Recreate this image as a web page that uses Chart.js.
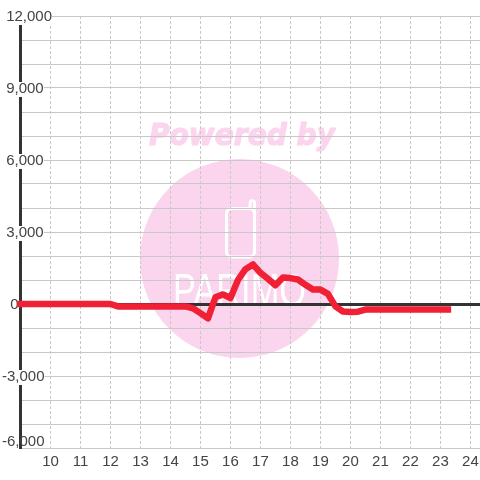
<!DOCTYPE html>
<html><head><meta charset="utf-8">
<script src="https://cdn.jsdelivr.net/npm/chart.js@4"></script>
<style>html,body{margin:0;padding:0;background:#fff}#w{width:480px;height:480px}</style>
</head><body><div id="w"><canvas id="c"></canvas></div>
<script>
const hours = [9,9.25,9.5,9.75,10,10.25,10.5,10.75,11,11.25,11.5,11.75,12,12.25,12.5,12.75,13,13.25,13.5,13.75,14,14.25,14.5,14.75,15,15.25,15.5,15.75,16,16.25,16.5,16.75,17,17.25,17.5,17.75,18,18.25,18.5,18.75,19,19.25,19.5,19.75,20,20.25,20.5,20.75,21,21.25,21.5,21.75,22,22.25,22.5,22.75,23,23.25];
const values = [0,0,0,0,0,0,0,0,0,0,0,0,0,-100,-100,-100,-100,-100,-100,-100,-100,-100,-100,-180,-380,-600,280,400,250,1000,1450,1650,1300,1050,780,1100,1080,1020,800,600,600,420,-100,-310,-330,-320,-230,-230,-230,-230,-230,-230,-230,-230,-230,-230,-230,-230];
const xTicks = [10,11,12,13,14,15,16,17,18,19,20,21,22,23,24];
const yTicks = [12000,11000,10000,9000,8000,7000,6000,5000,4000,3000,2000,1000,0,-1000,-2000,-3000,-4000,-5000,-6000];
const yLabels = {'12000':' 12,000','9000':' 9,000','6000':' 6,000','3000':' 3,000','0':'  0','-3000':'-3,000','-6000':'-6,000'};
const watermarkTop = 'Powered by';
const watermarkBrand = 'PARIMO';

const watermark = {
  id:'watermark',
  beforeDraw(chart){
    const g = chart.ctx;
    g.save();
    g.fillStyle='#fff'; g.fillRect(0,0,480,480);
    g.fillStyle='#fbd5ee'; g.strokeStyle='#fbd5ee';
    g.beginPath(); g.arc(239.5,258.5,99.5,0,Math.PI*2); g.fill();
    g.font='italic bold 30px "DejaVu Sans"';
    g.textAlign='center'; g.textBaseline='alphabetic';
    g.lineWidth=1.2; g.lineJoin='round';
    g.fillText(watermarkTop,242,145,186);
    g.strokeText(watermarkTop,242,145,186);
    g.strokeStyle='#fff'; g.lineWidth=3; g.lineCap='round';
    g.beginPath(); g.roundRect(226.5,208.5,28,48.5,5); g.stroke();
    g.beginPath(); g.moveTo(250,208.5); g.lineTo(250,203); g.arc(252.25,203,2.25,Math.PI,0); g.lineTo(254.5,212); g.stroke();
    g.fillStyle='#fff';
    g.font='46px "Liberation Sans Narrow","Liberation Sans"';
    g.textAlign='left';
    g.fillText(watermarkBrand,173,306,133);
    g.restore();
  }
};

function nudgeLastLabel(s){
  // the lowest label sits above its gridline so it stays inside the canvas
  const base = Chart.Scale.prototype.getLabelItems;
  s.getLabelItems = function(area){
    const items = base.call(this, area);
    const last = items[items.length-1];
    if (last && !last.nudged && last.label==='-6,000'){
      last.nudged = true;
      last.options.translation[1] -= 7;
      if (last.options.backdrop){ last.options.backdrop.top = 436; last.options.backdrop.height = 13; }
    }
    return items;
  };
}

new Chart(document.getElementById('c'),{
  type:'line',
  data:{datasets:[{
    data:hours.map((h,i)=>({x:h,y:values[i]})),
    borderColor:'#f02035',borderWidth:6.5,borderCapStyle:'square',borderJoinStyle:'round',
    pointRadius:0,tension:0,fill:false,clip:false
  }]},
  plugins:[watermark],
  options:{
    responsive:true,maintainAspectRatio:false,animation:false,
    devicePixelRatio:1,
    layout:{padding:{left:20.5,top:16,right:0,bottom:0}},
    plugins:{legend:{display:false},title:{display:false},tooltip:{enabled:false}},
    scales:{
      x:{type:'linear',min:9,max:24.32,
        afterBuildTicks(s){s.ticks=xTicks.map(v=>({value:v}));},
        afterFit(s){s.height=32;s.paddingLeft=0;s.paddingRight=0;},
        grid:{color:'#c8c8c8',lineWidth:1,drawTicks:false},
        border:{display:false,dash:[3,2]},
        ticks:{autoSkip:false,maxRotation:0,padding:5,color:'#444',font:{family:'"Liberation Sans"',size:15},callback:v=>String(v)}
      },
      y:{type:'linear',min:-6000,max:12000,
        afterBuildTicks(s){s.ticks=yTicks.map(v=>({value:v}));},
        afterFit(s){s.width=0;},
        afterUpdate:nudgeLastLabel,
        grid:{drawTicks:false,lineWidth:c=>c.tick&&c.tick.value===0?3:1,color:c=>c.tick&&c.tick.value===0?'#333':'#c8c8c8'},
        border:{display:true,color:'#333',width:3},
        ticks:{autoSkip:false,mirror:true,padding:-18.5,labelOffset:1,color:'#444',
          font:{family:'"Liberation Sans"',size:15},
          showLabelBackdrop:c=>c.tick.value%3000===0,
          backdropColor:'#fff',
          backdropPadding:{top:-2,bottom:-1,left:0,right:0},
          callback:v=>yLabels[String(v)]||''}
      }
    }
  }
});
</script></body></html>
